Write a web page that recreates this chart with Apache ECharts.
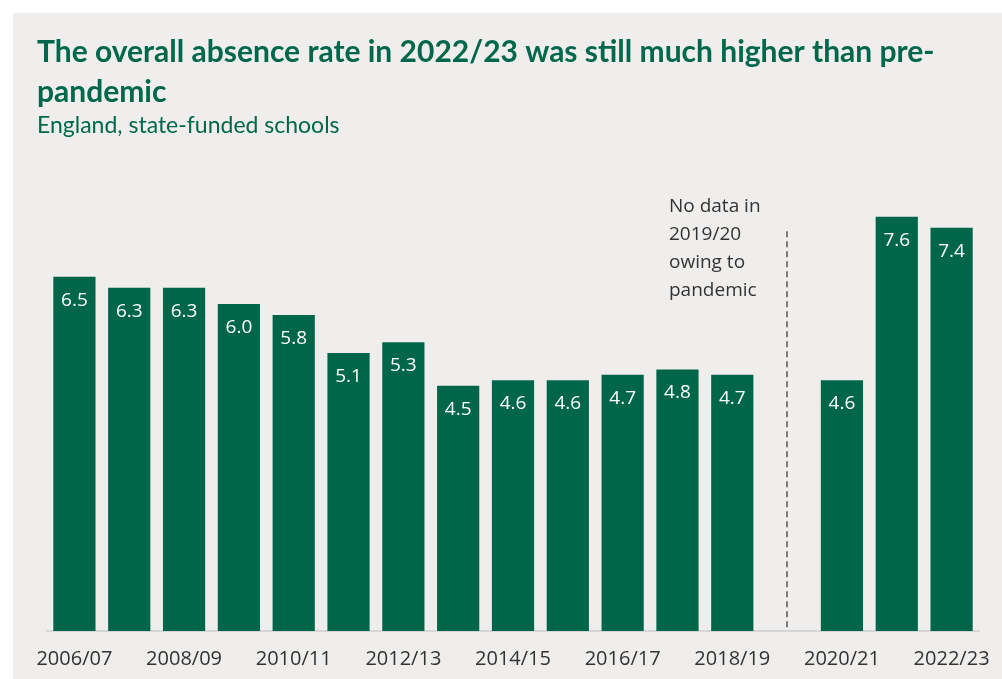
<!DOCTYPE html>
<html><head><meta charset="utf-8">
<script src="https://cdn.jsdelivr.net/npm/echarts@6/dist/echarts.min.js"></script>
<style>
html,body{margin:0;padding:0;background:#fff;width:1002px;height:679px;overflow:hidden}
#bg{position:absolute;left:13px;top:13px;right:0;bottom:0;background:#efeeed}
#chart{position:absolute;left:0;top:0;width:1002px;height:679px}
</style></head>
<body><div id="bg"></div><div id="chart"></div>
<script>
const categories = ['2006/07','2007/08','2008/09','2009/10','2010/11','2011/12','2012/13','2013/14','2014/15','2015/16','2016/17','2017/18','2018/19','2019/20','2020/21','2021/22','2022/23'];
const absenceRate = [6.5,6.3,6.3,6.0,5.8,5.1,5.3,4.5,4.6,4.6,4.7,4.8,4.7,null,4.6,7.6,7.4];
const gapCategory = '2019/20';
const gapLineTop = 7.41;
const titleText = 'The overall absence rate in 2022/23 was still much higher than pre-\npandemic';
const subtitleText = 'England, state-funded schools';
const noteText = 'No data in\n2019/20\nowing to\npandemic';

const chart = echarts.init(document.getElementById('chart'));
chart.setOption({
  backgroundColor: 'transparent',
  animation: false,
  title: [{
    text: titleText,
    left: 32, top: 27,
    textStyle: {fontFamily: 'Lato', fontWeight: 'bold', fontSize: 30, color: '#00684a', lineHeight: 40}
  },{
    text: subtitleText,
    left: 32, top: 109,
    textStyle: {fontFamily: 'Lato', fontWeight: 'normal', fontSize: 23, color: '#00684a'}
  }],
  grid: {left: 47, right: 23, top: 195, bottom: 48},
  xAxis: {
    type: 'category',
    data: categories,
    axisTick: {show: false},
    axisLine: {lineStyle: {color: '#d6d6d6', width: 2}},
    axisLabel: {interval: 1, color: '#333', fontFamily: 'Open Sans', fontSize: 20, margin: 18}
  },
  yAxis: {
    type: 'value', min: 0, max: 8,
    show: false, splitLine: {show: false}
  },
  series: [{
    type: 'bar',
    data: absenceRate,
    barCategoryGap: '23%',
    itemStyle: {color: '#00664a'},
    label: {
      show: true, position: 'insideTop', distance: 14,
      color: '#fff', fontFamily: 'Open Sans', fontSize: 19,
      formatter: p => p.value.toFixed(1)
    },
    markLine: {
      symbol: 'none', silent: true,
      label: {show: false},
      lineStyle: {color: '#555', type: [6, 4], width: 1.5},
      data: [[{xAxis: gapCategory, yAxis: 0.07}, {xAxis: gapCategory, yAxis: gapLineTop}]]
    }
  }],
  graphic: [{
    type: 'text', left: 669, top: 193,
    style: {text: noteText, fontFamily: 'Open Sans', fontSize: 19, lineHeight: 28, fill: '#333'}
  }]
});
</script></body></html>
